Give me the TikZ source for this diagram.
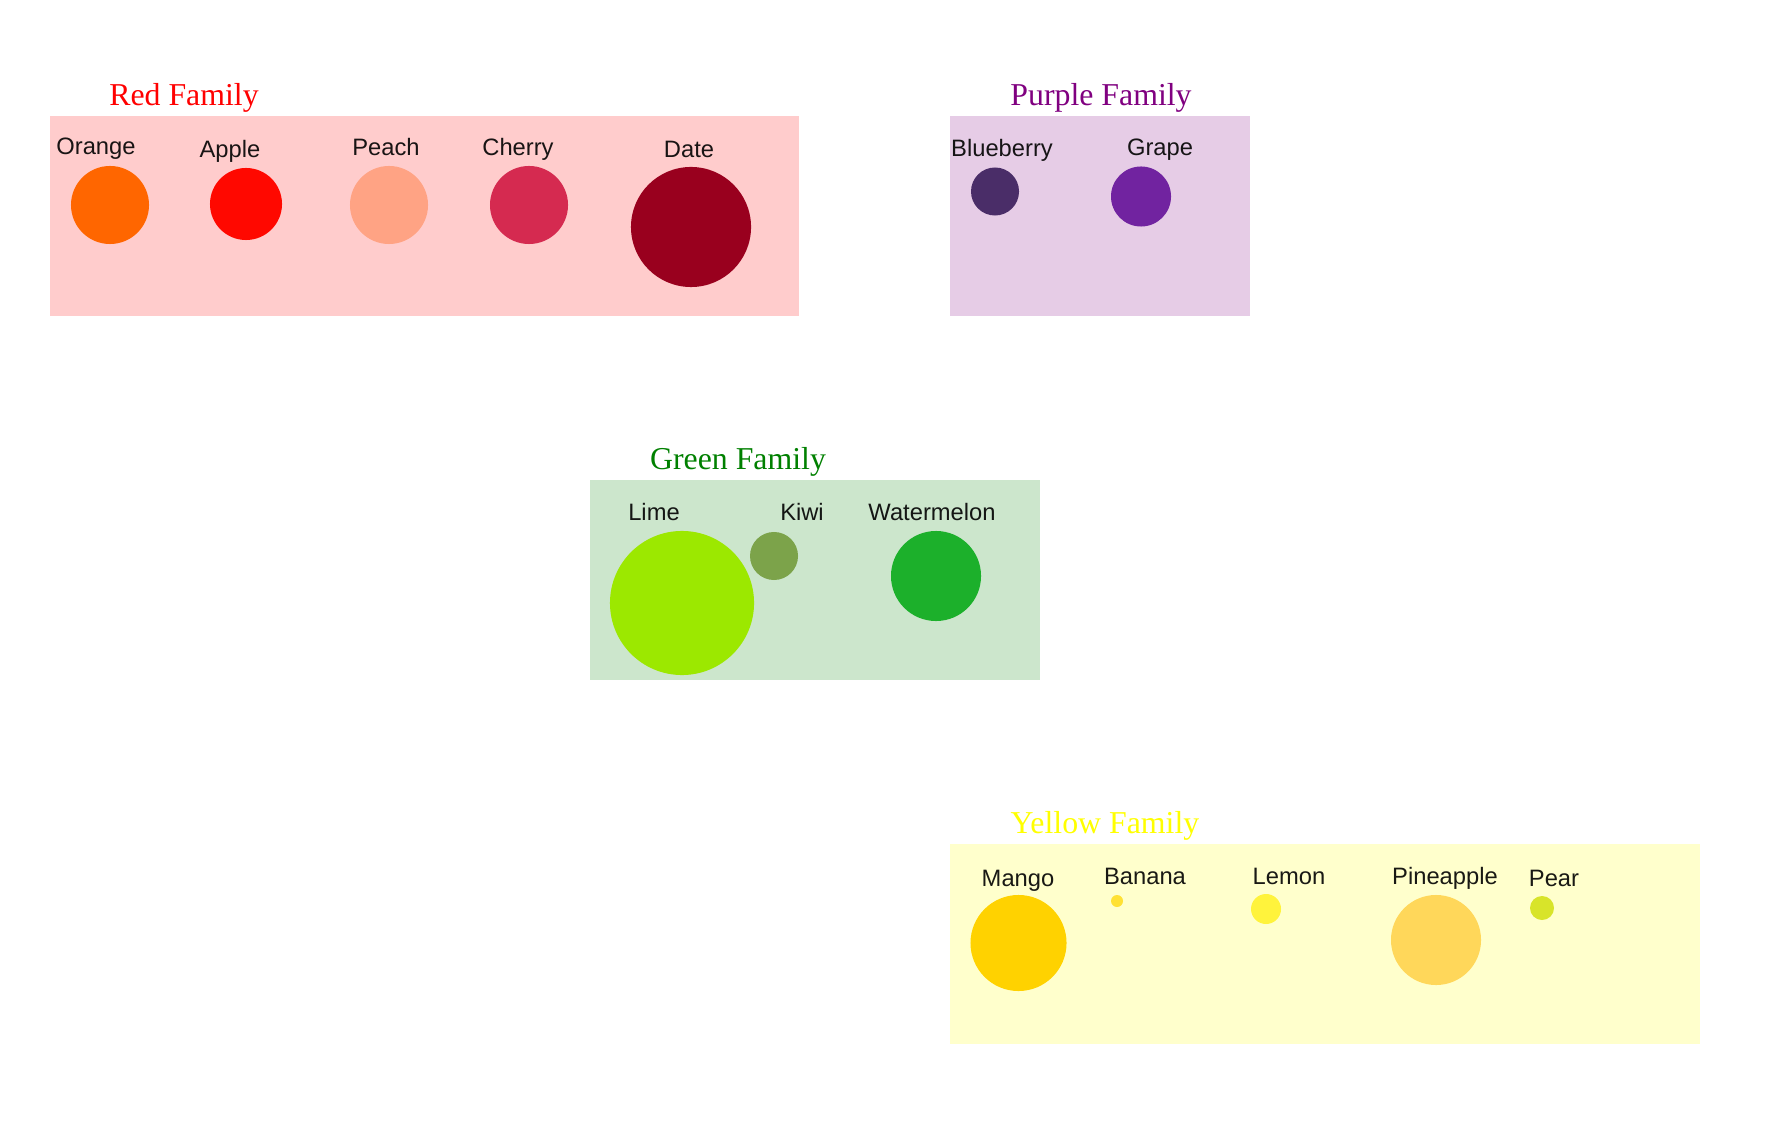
\documentclass[tikz,border=0pt]{standalone}
\usepackage{fontspec}
\setmainfont{Liberation Serif}
\setsansfont{Liberation Sans}
\usetikzlibrary{positioning}

\definecolor{famRed}{RGB}{255,0,0}
\definecolor{famPurple}{RGB}{128,0,128}
\definecolor{famGreen}{RGB}{0,128,0}
\definecolor{famYellow}{RGB}{255,255,0}
\definecolor{cOrange}{HTML}{FF6600}
\definecolor{cApple}{HTML}{FF0800}
\definecolor{cPeach}{HTML}{FFA384}
\definecolor{cCherry}{HTML}{D52A50}
\definecolor{cDate}{HTML}{99001E}
\definecolor{cBlueberry}{HTML}{4A2D68}
\definecolor{cGrape}{HTML}{7123A0}
\definecolor{cLime}{HTML}{9CE800}
\definecolor{cKiwi}{HTML}{7CA34A}
\definecolor{cWatermelon}{HTML}{1CB02B}
\definecolor{cMango}{HTML}{FFD200}
\definecolor{cBanana}{HTML}{FFE135}
\definecolor{cLemon}{HTML}{FFF33C}
\definecolor{cPineapple}{HTML}{FFD75A}
\definecolor{cPear}{HTML}{D8E42A}

\begin{document}
\begin{tikzpicture}[
  x=0.01cm, y=-0.01cm,
  every node/.style={inner sep=0pt, outer sep=0pt},
  family/.style={fill=#1, fill opacity=0.2, draw=none},
  familytitle/.style={anchor=base, text=#1, font=\fontsize{9.05}{11}\selectfont},
  fruit/.style={circle, fill=#1, draw=none},
  fruitlabel/.style={anchor=base, text=black, text opacity=0.9,
                     font=\sffamily\fontsize{6.75}{8}\selectfont}]

  \useasboundingbox (0,0) rectangle (1774,1128);

  \fill[family=famRed]    (50,116)  rectangle (799,316);
  \fill[family=famPurple] (950,116) rectangle (1250,316);
  \fill[family=famGreen]  (590,480) rectangle (1040,680);
  \fill[family=famYellow] (950,844) rectangle (1700,1044);

  \node[familytitle=famRed]    (redT)    at (184,106)  {Red Family};
  \node[familytitle=famPurple] (purpleT) at (1101,106) {Purple Family};
  \node[familytitle=famGreen]  (greenT)  at (738,469)  {Green Family};
  \node[familytitle=famYellow] (yellowT) at (1105,833) {Yellow Family};

  \node[fruit=cOrange, minimum size=0.78cm] (orange) at (110,205) {};
  \node[fruit=cApple,  minimum size=0.72cm] (apple)  at (246,204) {};
  \node[fruit=cPeach,  minimum size=0.78cm] (peach)  at (389,205) {};
  \node[fruit=cCherry, minimum size=0.78cm] (cherry) at (529,205) {};
  \node[fruit=cDate,   minimum size=1.2cm]  (date)   at (691,227) {};

  \node[fruitlabel] (orangeL) at (96,155)  {Orange};
  \node[fruitlabel] (appleL)  at (230,158) {Apple};
  \node[fruitlabel] (peachL)  at (386,156) {Peach};
  \node[fruitlabel] (cherryL) at (518,156) {Cherry};
  \node[fruitlabel] (dateL)   at (689,158) {Date};

  \node[fruit=cBlueberry, minimum size=0.48cm] (blueberry) at (995,191.5) {};
  \node[fruit=cGrape,     minimum size=0.6cm]  (grape)     at (1141,196.5) {};

  \node[fruitlabel] (blueberryL) at (1002,157) {Blueberry};
  \node[fruitlabel] (grapeL)     at (1160,156) {Grape};

  \node[fruit=cLime,       minimum size=1.44cm] (lime)       at (682,603) {};
  \node[fruit=cKiwi,       minimum size=0.48cm] (kiwi)       at (774,556) {};
  \node[fruit=cWatermelon, minimum size=0.9cm]  (watermelon) at (936,576) {};

  \node[fruitlabel] (limeL)       at (654,520) {Lime};
  \node[fruitlabel] (kiwiL)       at (802,521) {Kiwi};
  \node[fruitlabel] (watermelonL) at (932,520) {Watermelon};

  \node[fruit=cMango,     minimum size=0.96cm] (mango)     at (1018.5,943) {};
  \node[fruit=cBanana,    minimum size=0.12cm] (banana)    at (1117,901) {};
  \node[fruit=cLemon,     minimum size=0.3cm]  (lemon)     at (1266,909) {};
  \node[fruit=cPineapple, minimum size=0.9cm]  (pineapple) at (1436,940) {};
  \node[fruit=cPear,      minimum size=0.24cm] (pear)      at (1542,908) {};

  \node[fruitlabel] (mangoL)     at (1018,886) {Mango};
  \node[fruitlabel] (bananaL)    at (1145,884) {Banana};
  \node[fruitlabel] (lemonL)     at (1289,884) {Lemon};
  \node[fruitlabel] (pineappleL) at (1445,884) {Pineapple};
  \node[fruitlabel] (pearL)      at (1554,886) {Pear};

\end{tikzpicture}
\end{document}
